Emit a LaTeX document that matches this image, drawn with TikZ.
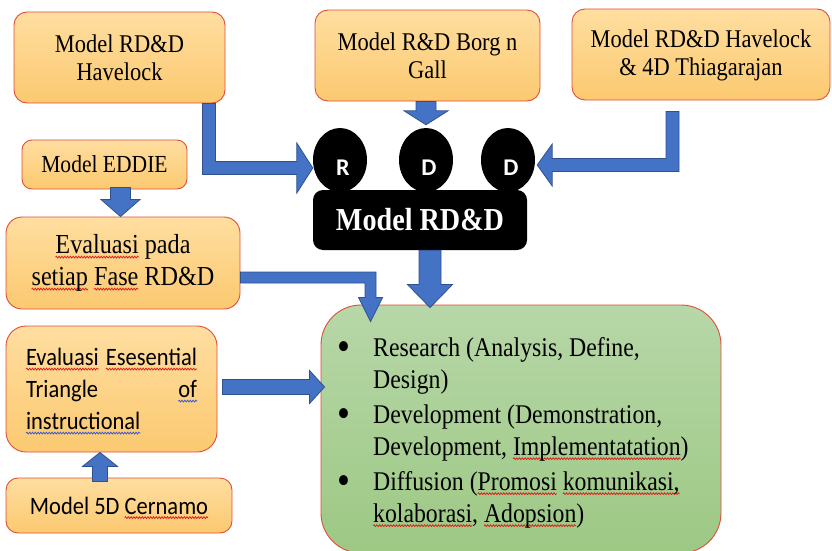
\documentclass[tikz,border=0pt]{standalone}
\usepackage{fontspec}
\usetikzlibrary{calc,shapes.geometric,decorations.pathmorphing}

\newfontfamily\serifnarrow[FakeStretch=0.88]{Liberation Serif}
\newfontfamily\calnarrow[FakeStretch=0.9]{Carlito}
\newfontfamily\sanslbl{Carlito}

\newcommand\bxfont{\serifnarrow\fontsize{25.5}{28}\selectfont}
\newcommand\evfont{\serifnarrow\fontsize{27.5}{32}\selectfont}
\newcommand\edfont{\serifnarrow\fontsize{24.5}{28}\selectfont}
\newcommand\lsfont{\serifnarrow\fontsize{27}{32}\selectfont}
\newcommand\clfont{\calnarrow\fontsize{25}{32}\selectfont}
\newcommand\rdfont{\serifnarrow\bfseries\fontsize{32}{34}\selectfont}
\newcommand\bigbullet{\raisebox{-4.5pt}{\fontsize{42}{32}\selectfont\textbullet}}

\definecolor{boxtop}{RGB}{255,222,160}
\definecolor{boxbot}{RGB}{251,201,112}
\definecolor{boxline}{RGB}{224,78,58}
\definecolor{greentop}{RGB}{183,215,168}
\definecolor{greenbot}{RGB}{157,200,132}
\definecolor{arrowfill}{RGB}{68,114,196}
\definecolor{arrowline}{RGB}{47,82,143}
\definecolor{spellred}{RGB}{225,25,25}
\definecolor{spellblue}{RGB}{55,85,215}

% wavy spell-check underline under a word
\newlength\spellw
\newcommand\spellmark[2]{\leavevmode\settowidth\spellw{#2}\rlap{\tikz[overlay,baseline=0pt]\draw[#1,sharp corners,line width=0.75pt,decorate,decoration={snake,amplitude=0.9pt,segment length=2.8pt}] (0pt,-3.5pt) -- (\spellw,-3.5pt);}#2}

% straight vertical block arrow: start, tip, shaft half-width, head half-width, head length
\newcommand\varrowblk[5]{%
  \draw[blockarrow] let \p1=(#1), \p2=(#2), \n1={sign(\y2-\y1)} in
    (\x2-#3pt,\y1) -- (\x2-#3pt,\y2-\n1*#5pt) -- (\x2-#4pt,\y2-\n1*#5pt) -- (\x2,\y2)
    -- (\x2+#4pt,\y2-\n1*#5pt) -- (\x2+#3pt,\y2-\n1*#5pt) -- (\x2+#3pt,\y1) -- cycle;}
% straight horizontal block arrow
\newcommand\harrowblk[5]{%
  \draw[blockarrow] let \p1=(#1), \p2=(#2), \n1={sign(\x2-\x1)} in
    (\x1,\y2-#3pt) -- (\x2-\n1*#5pt,\y2-#3pt) -- (\x2-\n1*#5pt,\y2-#4pt) -- (\x2,\y2)
    -- (\x2-\n1*#5pt,\y2+#4pt) -- (\x2-\n1*#5pt,\y2+#3pt) -- (\x1,\y2+#3pt) -- cycle;}
% bent block arrow: down first, then sideways to the tip
\newcommand\vharrowblk[5]{%
  \draw[blockarrow] let \p1=(#1), \p2=(#2), \n1={sign(\x2-\x1)} in
    (\x1-\n1*#3pt,\y1) -- (\x1-\n1*#3pt,\y2-#3pt) -- (\x2-\n1*#5pt,\y2-#3pt)
    -- (\x2-\n1*#5pt,\y2-#4pt) -- (\x2,\y2) -- (\x2-\n1*#5pt,\y2+#4pt)
    -- (\x2-\n1*#5pt,\y2+#3pt) -- (\x1+\n1*#3pt,\y2+#3pt) -- (\x1+\n1*#3pt,\y1) -- cycle;}
% bent block arrow: right first, then down to the tip
\newcommand\hvarrowblk[5]{%
  \draw[blockarrow] let \p1=(#1), \p2=(#2) in
    (\x1,\y1+#3pt) -- (\x2+#3pt,\y1+#3pt) -- (\x2+#3pt,\y2+#5pt) -- (\x2+#4pt,\y2+#5pt)
    -- (\x2,\y2) -- (\x2-#4pt,\y2+#5pt) -- (\x2-#3pt,\y2+#5pt) -- (\x2-#3pt,\y1-#3pt)
    -- (\x1,\y1-#3pt) -- cycle;}

\tikzset{
  obox/.style={draw=boxline, line width=0.9pt, rounded corners=13pt,
    top color=boxtop, bottom color=boxbot, inner sep=0pt, align=center, font=\bxfont},
  gbox/.style={draw=boxline, line width=0.9pt, rounded corners=40pt,
    top color=greentop, bottom color=greenbot, inner sep=0pt},
  blockarrow/.style={fill=arrowfill, draw=arrowline, line width=0.8pt, line join=miter},
  blackpart/.style={fill=black, inner sep=0pt},
  lettr/.style={text=white, inner sep=0pt, font=\sanslbl\bfseries\fontsize{24}{24}\selectfont},
}

\begin{document}
\begin{tikzpicture}[x=1pt,y=-1pt]
\useasboundingbox (0,0) rectangle (832,551);
\clip (0,0) rectangle (832,551);

% source models
\node[obox, minimum width=211pt, minimum height=91pt] (havelock) at (119.5,57.5)
  {Model RD\&D\\Havelock};
\node[obox, minimum width=225pt, minimum height=91pt] (borg) at (427.5,55.5)
  {Model R\&D Borg n\\Gall};
\node[obox, minimum width=258pt, minimum height=91pt, text depth=3pt] (thiaga) at (701,54.5)
  {Model RD\&D Havelock\\\& 4D Thiagarajan};
\node[obox, minimum width=165pt, minimum height=49pt, rounded corners=10pt, font=\edfont]
  (eddie) at (104.5,164.5) {Model EDDIE};
\node[obox, minimum width=234pt, minimum height=92pt, rounded corners=16pt, font=\evfont]
  (evalfase) at (123,263)
  {\spellmark{spellred}{Evaluasi} pada\\\spellmark{spellred}{setiap} \spellmark{spellred}{Fase} RD\&D};
\node[obox, minimum width=211pt, minimum height=126pt, rounded corners=20pt, font=\clfont,
  text width=171pt, align=left] (esensial) at (111.5,389)
  {\spellmark{spellred}{Evaluasi}\hfill\spellmark{spellred}{Esesential}\\
   Triangle\hfill\spellmark{spellblue}{of}\\
   \spellmark{spellblue}{instructional}};
\node[obox, minimum width=226pt, minimum height=55pt, rounded corners=12pt, font=\clfont]
  (cernamo) at (119,505.5) {Model 5D \spellmark{spellred}{Cernamo}};

% RD&D emblem
\node[blackpart, rounded corners=10pt, minimum width=214pt, minimum height=60pt,
  text=white, font=\rdfont] (rdd) at (420,220) {Model RD\&D};
\node[blackpart, ellipse, minimum width=54pt, minimum height=64pt,
  label={[lettr, xshift=3pt, yshift=-8pt]center:R}] (cR) at (340,160) {};
\node[blackpart, ellipse, minimum width=54pt, minimum height=64pt,
  label={[lettr, xshift=3pt, yshift=-8pt]center:D}] (cD1) at (426,160) {};
\node[blackpart, ellipse, minimum width=54pt, minimum height=64pt,
  label={[lettr, xshift=3pt, yshift=-8pt]center:D}] (cD2) at (508,160) {};

% outcome
\node[gbox, minimum width=400pt, minimum height=248pt] (hasil) at (521,429) {};
\node[anchor=north west, inner sep=0pt, font=\lsfont] (items) at (337.5,333.6) {%
  \begin{tabular}{@{}p{35.5pt}@{}l@{}}
  \bigbullet & Research (Analysis, Define,\\
             & Design)\\[3pt]
  \bigbullet & Development (Demonstration,\\
             & Development, \spellmark{spellred}{Implementatation})\\[3pt]
  \bigbullet & Diffusion (\spellmark{spellred}{Promosi} \spellmark{spellred}{komunikasi,}\\
             & \spellmark{spellred}{kolaborasi}, \spellmark{spellred}{Adopsion})
  \end{tabular}};

% connectors
\vharrowblk{$(havelock.south east)+(-16.5,0)$}{$(cR.west)+(0,8)$}{6.5}{25}{16}
\varrowblk{$(borg.south)+(-2.5,0)$}{$(cD1.north)+(0,-3)$}{10}{22}{14}
\vharrowblk{$(thiaga.south)+(-28.5,11)$}{$(cD2.east)+(2,5)$}{6.5}{21}{15}
\varrowblk{$(eddie.south)+(16,-2)$}{$(evalfase.north)+(-2.5,0)$}{10}{19.5}{17}
\varrowblk{$(rdd.south)+(11,0)$}{$(hasil.north)+(-91,3)$}{11}{22.5}{23}
\hvarrowblk{$(evalfase.east)+(0,14.5)$}{$(hasil.north west)+(50,17)$}{5.5}{12}{24}
\harrowblk{$(esensial.east)+(5,-1.5)$}{$(hasil.west)+(4,-42)$}{7.5}{16.5}{15}
\varrowblk{$(cernamo.north)+(-19,4)$}{$(esensial.south)+(-11.5,0)$}{7.5}{17.5}{14}
\end{tikzpicture}
\end{document}
